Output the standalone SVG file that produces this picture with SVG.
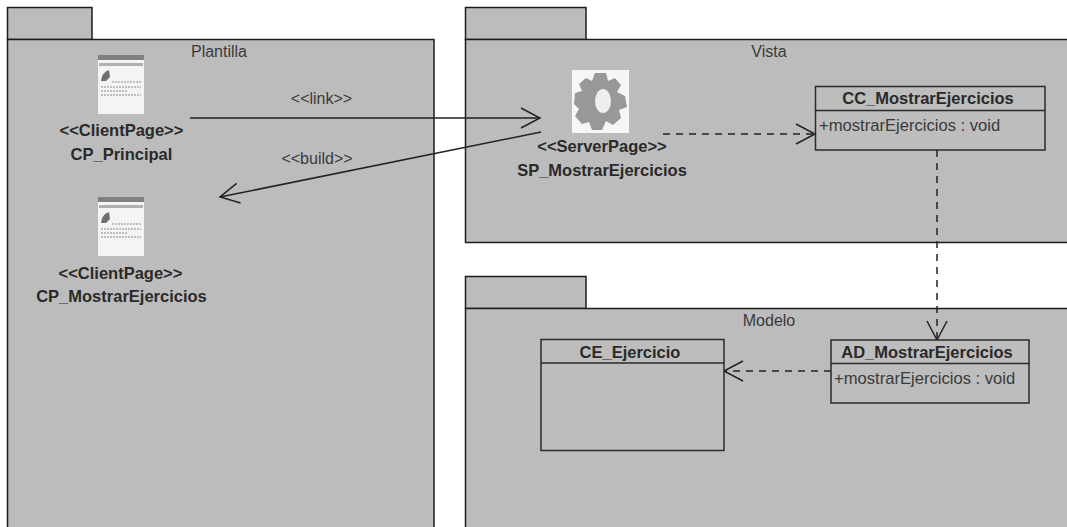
<svg xmlns="http://www.w3.org/2000/svg" width="1067" height="527" viewBox="0 0 1067 527">
<style>
.pkg{fill:#bcbcbc;stroke:#1c1c1c;stroke-width:1.5}
.cls{fill:#bdbdbd;stroke:#2a2a2a;stroke-width:1.5}
.t{font-family:"Liberation Sans",Arial,sans-serif;font-size:16px;fill:#3a3a3a;text-anchor:middle}
.b{font-family:"Liberation Sans",Arial,sans-serif;font-size:16.5px;font-weight:bold;fill:#2a2a2a;text-anchor:middle}
.m{font-family:"Liberation Sans",Arial,sans-serif;font-size:16.600px;fill:#3a3a3a}
.c{fill:none;stroke:#222;stroke-width:1.5}
.d{stroke-dasharray:7 6}
</style>
<defs>
<marker id="open" viewBox="0 0 22 22" refX="20" refY="11" markerWidth="22" markerHeight="22" markerUnits="userSpaceOnUse" orient="auto"><path d="M1 1L20 11L1 21" fill="none" stroke="#222" stroke-width="1.5"/></marker>
<g id="page">
<rect x="0" y="0" width="46" height="59" fill="#f4f4f4"/>
<rect x="0" y="0" width="46" height="5" fill="#808080"/>
<rect x="1" y="8" width="44" height="3" fill="#b0b0b0"/>
<path d="M3 26Q4 17 11 15L12 22L8 26Z" fill="#6e6e6e"/>
<path d="M14 27H43M3 32H43M3 36H30M3 40H43" stroke="#8a8a8a" stroke-width="1.2" stroke-dasharray="2 1"/>
</g>
</defs>
<g id="pkg-plantilla">
<rect class="pkg" x="7.500" y="7.500" width="84.500" height="32"/>
<rect class="pkg" x="7.500" y="39.500" width="426.500" height="495"/>
<text class="t" x="219" y="57">Plantilla</text>
</g>
<g id="pkg-vista">
<rect class="pkg" x="465.500" y="7.500" width="120.500" height="32"/>
<rect class="pkg" x="465.500" y="39.500" width="610" height="203"/>
<text class="t" x="769" y="57">Vista</text>
</g>
<g id="pkg-modelo">
<rect class="pkg" x="465.500" y="276.500" width="120.500" height="32"/>
<rect class="pkg" x="465.500" y="308.500" width="610" height="230"/>
<text class="t" x="769" y="326">Modelo</text>
</g>
<g id="connectors">
<path class="c" d="M190 118H540" marker-end="url(#open)"/>
<path class="c" d="M541 132L220 197" marker-end="url(#open)"/>
<path class="c d" d="M663 134H815" marker-end="url(#open)"/>
<path class="c d" d="M937 150V340" marker-end="url(#open)"/>
<path class="c d" d="M831 371H724" marker-end="url(#open)"/>
<text class="t" x="321.500" y="104">&lt;&lt;link&gt;&gt;</text>
<text class="t" x="317" y="164">&lt;&lt;build&gt;&gt;</text>
</g>
<g id="cp-principal">
<use href="#page" x="98" y="55"/>
<text class="b" x="121.500" y="136">&lt;&lt;ClientPage&gt;&gt;</text>
<text class="b" x="121.500" y="160">CP_Principal</text>
</g>
<g id="cp-mostrar">
<use href="#page" x="98" y="197"/>
<text class="b" x="120.500" y="279">&lt;&lt;ClientPage&gt;&gt;</text>
<text class="b" x="121.500" y="302">CP_MostrarEjercicios</text>
</g>
<g id="sp-mostrar">
<rect x="572" y="70" width="57" height="63" fill="#f6f6f6"/>
<path d="M595 73L606 73L608 81L615 78L621 85L617 92L625 96L627 107L619 110L621 118L613 125L606 121L602 130L592 130L589 122L582 124L575 116L579 109L574 104L575 93L582 91L579 84L586 78L592 81Z" fill="#989898"/>
<ellipse cx="603" cy="101" rx="8" ry="12" fill="#eee"/>
<text class="b" x="602" y="152">&lt;&lt;ServerPage&gt;&gt;</text>
<text class="b" x="602" y="176">SP_MostrarEjercicios</text>
</g>
<g id="cc-mostrar">
<rect class="cls" x="815.500" y="86.500" width="229.500" height="63.500"/>
<path class="cls" d="M815.500 110.500H1045"/>
<text class="b" x="928" y="104">CC_MostrarEjercicios</text>
<text class="m" x="819" y="131">+mostrarEjercicios : void</text>
</g>
<g id="ad-mostrar">
<rect class="cls" x="831" y="340" width="198" height="63"/>
<path class="cls" d="M831 363.500H1029"/>
<text class="b" x="927" y="358">AD_MostrarEjercicios</text>
<text class="m" x="834" y="384">+mostrarEjercicios : void</text>
</g>
<g id="ce-ejercicio">
<rect class="cls" x="541" y="339.500" width="183" height="111"/>
<path class="cls" d="M541 363H724"/>
<text class="b" x="630" y="358">CE_Ejercicio</text>
</g>
</svg>
